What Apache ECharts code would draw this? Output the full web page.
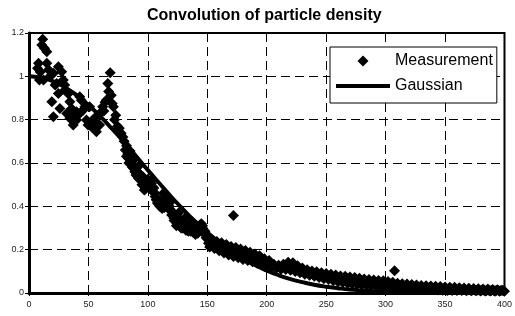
<!DOCTYPE html>
<html>
<head>
<meta charset="utf-8">
<script src="https://cdn.jsdelivr.net/npm/echarts@6/dist/echarts.min.js"></script>
<style>
  html, body { margin: 0; padding: 0; background: #fff; }
  #chart { width: 515px; height: 316px; }
</style>
</head>
<body>
<div id="chart"></div>
<script>
const earlyPoints = [
  [7.2,1.037],[8,1.06],[8.8,0.983],[9.4,1.02],[10.8,1.145],[11.5,1.171],[12.2,0.983],[13,1.13],
  [15,1.114],[15,1.06],[16.4,1.03],[17.7,1.0],[19.2,0.883],[20.5,1.014],[20.5,0.813],[22,0.96],
  [23.3,0.967],[24.7,1.044],[24.7,0.921],[26,0.852],[27.5,1.021],[28.8,0.983],[30,0.96],[30.3,0.937],
  [31.7,0.829],[33,0.92],[34.4,0.883],[34.4,0.806],[35.8,0.852],[37.2,0.775],[38.6,0.821],[40,0.798],
  [40,0.836],[42.7,0.906],[42.7,0.829],[44,0.89],[45.5,0.844],[47,0.86],[48.3,0.798],[49.7,0.775],
  [51,0.86],[52.5,0.767],[54,0.8],[55,0.806],[56.7,0.744],[57.5,0.78],[59.4,0.775],[59.4,0.829],
  [62,0.86],[63,0.84],[64,0.88],[65,0.89],[66.3,0.967],[67,0.93],[68.3,1.017],[69.2,0.913],
  [70,0.875],[71,0.86],[72,0.8],[73,0.82],[74.5,0.77],[76,0.76],[77.5,0.737],[79,0.72]
];
const midPoints = [
  [80,0.70],[81,0.66],[82,0.68],[83,0.64],[84,0.62],[85,0.655],[86,0.60],[87,0.58],[88,0.615],
  [89,0.56],[90,0.575],[91,0.54],[92,0.585],[93,0.55],[94,0.52],[95,0.50],[96,0.535],[97,0.475],
  [98,0.51],[99,0.49],[100,0.525],[101,0.50],[102,0.48],[103,0.505],[104,0.47],[105,0.485],
  [106,0.445],[107,0.43],[108,0.415],[109,0.41],[110,0.40],[111,0.425],[112,0.405],[113,0.43],
  [114,0.395],[115,0.42],[116,0.44],[117,0.415],[118,0.40],[119,0.385],[120,0.375],[121,0.36],
  [122,0.335],[123,0.355],[124,0.325],[125,0.345],[126,0.33],[127,0.315],[128,0.335],[129,0.30],
  [130,0.32],[131,0.30],[132,0.31],[133,0.29],[134,0.305],[135,0.295],[136,0.285],[137,0.305],
  [138,0.28],[139,0.295],[140,0.285],[141,0.30],[142,0.276],[143,0.30],[144,0.315],[145,0.32],
  [146,0.30],[147,0.29],[148,0.27],[149,0.255]
];
const midExtra = [
  [82,0.63],[84,0.6],[86,0.625],[88,0.575],[90,0.545],[92,0.53],[94,0.545],[96,0.5],[98,0.48],
  [100,0.495],[102,0.515],[104,0.49],[106,0.46],[108,0.435],[110,0.415],[112,0.39],[113,0.46],
  [114,0.41],[116,0.4],[118,0.385],[119,0.42],[120,0.36],[122,0.345],[124,0.31],[126,0.37],
  [128,0.3],[130,0.305],[131,0.345],[132,0.29],[134,0.285],[136,0.3],[137,0.33],[138,0.29],
  [140,0.27],[142,0.29],[144,0.3],[146,0.31],[148,0.285]
];
const tailX = [
  150,152,154,156,158,160,162,164,166,168,170,172,174,176,178,180,182,184,186,188,
  190,192,194,196,198,200,202,204,206,208,210,212,214,216,218,220,222,224,226,228,
  230,232,234,236,238,240,242,244,246,248,250,252,254,256,258,260,262,264,266,268,
  270,272,274,276,278,280,282,284,286,288,290,292,294,296,298,300,302,304,306,308,
  310,312,314,316,318,320,322,324,326,328,330,332,334,336,338,340,342,344,346,348,
  350,352,354,356,358,360,362,364,366,368,370,372,374,376,378,380,382,384,386,388,
  390,392,394,396,398,400
];
const tailY = [
  0.25,0.212,0.246,0.205,0.238,0.195,0.232,0.185,0.224,0.175,0.215,0.168,0.21,0.163,0.203,0.155,0.196,0.15,0.188,0.144,
  0.18,0.137,0.172,0.131,0.158,0.125,0.15,0.12,0.133,0.114,0.128,0.11,0.133,0.108,0.142,0.105,0.14,0.099,0.126,0.093,
  0.115,0.087,0.107,0.082,0.102,0.077,0.098,0.071,0.094,0.066,0.09,0.062,0.086,0.057,0.083,0.052,0.079,0.049,0.077,0.045,
  0.074,0.041,0.071,0.039,0.068,0.037,0.065,0.036,0.062,0.034,0.06,0.032,0.058,0.03,0.056,0.028,0.053,0.027,0.05,0.026,
  0.045,0.024,0.043,0.022,0.041,0.02,0.039,0.019,0.037,0.018,0.035,0.017,0.034,0.016,0.032,0.015,0.031,0.014,0.03,0.013,
  0.028,0.012,0.027,0.012,0.026,0.011,0.024,0.011,0.023,0.01,0.022,0.01,0.021,0.01,0.02,0.009,0.019,0.009,0.018,0.009,
  0.016,0.008,0.015,0.008,0.013,0.008
];
const tailOddX = [
  151,153,155,157,159,161,163,165,167,169,171,173,175,177,179,181,183,185,187,189,
  191,193,195,197,199,201,203,205,207,209,211,213,215,217,219,221,223,225,227,229,
  231,233,235,237,239,241,243,245,247,249,251,253,255,257,259,261,263,265,267,269,
  271,273,275,277,279,281,283,285,287,289,291,293,295,297,299,301,303,305,307,309,
  311,313,315,317,319,321,323,325,327,329,331,333,335,337,339,341,343,345,347,349,
  351,353,355,357,359,361,363,365,367,369,371,373,375,377,379,381,383,385,387,389,
  391,393,395,397,399
];
const tailOddY = [
  0.23,0.228,0.222,0.218,0.215,0.21,0.205,0.2,0.197,0.193,0.19,0.187,0.185,0.18,0.177,0.173,0.17,0.165,0.163,0.16,
  0.155,0.152,0.148,0.142,0.14,0.135,0.133,0.125,0.122,0.12,0.118,0.12,0.122,0.125,0.128,0.122,0.118,0.11,0.105,0.1,
  0.098,0.095,0.092,0.09,0.087,0.085,0.083,0.08,0.078,0.076,0.074,0.072,0.07,0.068,0.066,0.064,0.062,0.06,0.058,0.057,
  0.056,0.055,0.053,0.052,0.05,0.049,0.048,0.047,0.046,0.045,0.044,0.043,0.042,0.041,0.04,0.039,0.038,0.037,0.036,0.035,
  0.034,0.033,0.032,0.031,0.03,0.029,0.028,0.027,0.026,0.026,0.025,0.024,0.024,0.023,0.022,0.022,0.021,0.02,0.02,0.019,
  0.019,0.018,0.018,0.017,0.017,0.016,0.016,0.015,0.015,0.015,0.014,0.014,0.014,0.013,0.013,0.013,0.012,0.012,0.012,0.012,
  0.011,0.011,0.011,0.011,0.01
];
const outliers = [[172,0.358],[307.5,0.103]];

// fitted gaussian
const gaussX = [0,10,20,30,40,50,60,70,80,90,100,110,120,130,140,150,160,170,180,190,
  200,210,220,230,240,250,260,270,280,290,300,320,340,360,380,400];
const gaussY = [1.0,0.994,0.978,0.95,0.913,0.868,0.815,0.757,0.696,0.632,0.567,0.504,0.442,0.384,0.329,0.279,0.234,0.194,0.159,0.129,
  0.104,0.082,0.064,0.05,0.038,0.029,0.022,0.016,0.012,0.0085,0.006,0.003,0.0014,0.0006,0.0003,0.0001];

const measurement = earlyPoints.concat(
  midPoints,
  midExtra,
  tailX.map((x, i) => [x, tailY[i]]),
  tailOddX.map((x, i) => [x, tailOddY[i]]),
  outliers
);
const gaussian = gaussX.map((x, i) => [x, gaussY[i]]);

const font = "'Liberation Sans', Arial, sans-serif";
const chart = echarts.init(document.getElementById('chart'));

chart.setOption({
  animation: false,
  title: {
    text: 'Convolution of particle density',
    left: 142,
    top: 3,
    textStyle: { fontFamily: font, fontSize: 16, fontWeight: 'bold', color: '#000' }
  },
  grid: {
    left: 29, right: 7, top: 33, bottom: 23,
    show: true, borderColor: '#000', borderWidth: 2
  },
  legend: {
    orient: 'vertical',
    left: 330, top: 47,
    padding: [6, 4, 9, 6],
    itemGap: 9,
    itemWidth: 54, itemHeight: 12,
    backgroundColor: '#fff',
    borderColor: '#000', borderWidth: 1,
    textStyle: { fontFamily: font, fontSize: 16, color: '#000' },
    data: [
      { name: 'Measurement', icon: 'path://M0,0L0,0M27,0.5L32.5,6L27,11.5L21.5,6ZM54,12L54,12' },
      { name: 'Gaussian', icon: 'path://M0,0L0,0M0,4L54,4L54,8L0,8ZM54,12L54,12' }
    ]
  },
  xAxis: {
    type: 'value', min: 0, max: 400, interval: 50,
    axisLine: { lineStyle: { color: '#000', width: 3 } },
    axisTick: { show: true, length: 3, lineStyle: { color: '#000' } },
    axisLabel: { fontFamily: font, fontSize: 9, color: '#222', margin: 7 },
    splitLine: { lineStyle: { color: '#000', width: 1, type: [9, 5] } }
  },
  yAxis: {
    type: 'value', min: 0, max: 1.2, interval: 0.2,
    axisLine: { show: true, lineStyle: { color: '#000', width: 3 } },
    axisTick: { show: true, length: 4, lineStyle: { color: '#000' } },
    axisLabel: { fontFamily: font, fontSize: 9, color: '#222', margin: 5 },
    splitLine: { lineStyle: { color: '#000', width: 1, type: [9, 5] } }
  },
  series: [
    {
      name: 'Measurement',
      type: 'scatter',
      symbol: 'diamond',
      symbolSize: 11,
      itemStyle: { color: '#000', opacity: 1 },
      data: measurement,
      z: 2
    },
    {
      name: 'Gaussian',
      type: 'line',
      smooth: true,
      showSymbol: false,
      symbol: 'none',
      color: '#000',
      lineStyle: { color: '#000', width: 4 },
      data: gaussian,
      z: 3
    }
  ]
});
</script>
</body>
</html>
